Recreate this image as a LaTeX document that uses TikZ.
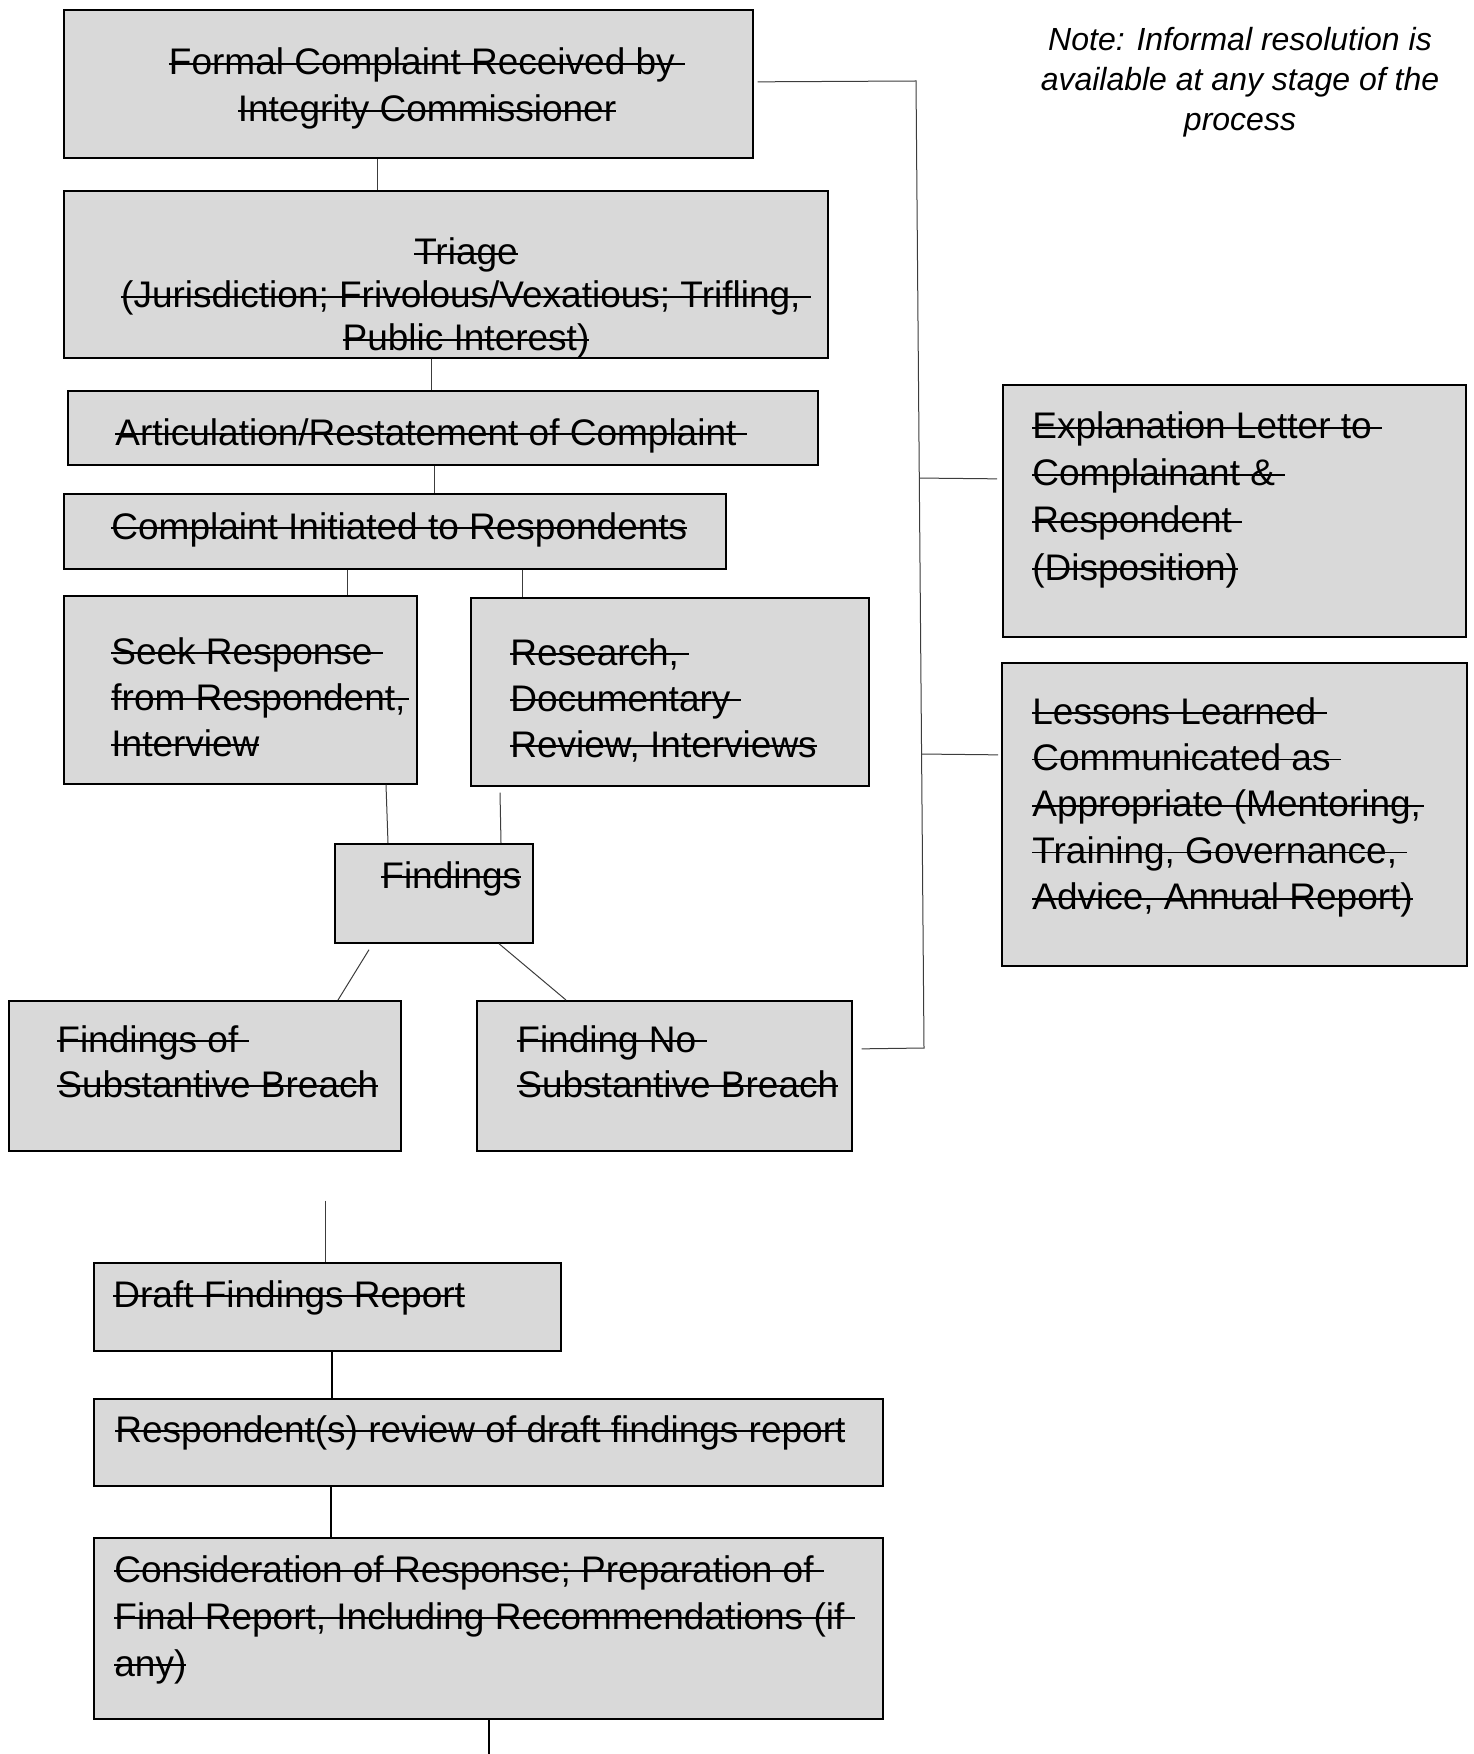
\documentclass[tikz,border=0pt]{standalone}
\usepackage{fontspec}
\setmainfont{Liberation Sans}
\usetikzlibrary{calc}
\definecolor{boxgray}{RGB}{217,217,217}
\definecolor{linegray}{RGB}{60,60,60}
\newcommand\stk[1]{\setbox0=\hbox{#1}\rlap{\rule[0.27em]{\wd0}{0.8pt}}\box0}
\newcommand\tl[1]{\begin{tabular}[t]{@{}l@{}}#1\end{tabular}}
\newcommand\tc[1]{\begin{tabular}[t]{@{}c@{}}#1\end{tabular}}
\begin{document}
\begin{tikzpicture}[x=0.5pt,y=-0.5pt,
  box/.style={draw=black, line width=0.85pt, fill=boxgray, anchor=north west, inner sep=0pt},
  txt/.style={anchor=base west, inner sep=0pt, font=\fontsize{18.5}{#1}\selectfont},
  txt/.default=23pt,
  conn/.style={draw=linegray, line width=0.5pt},
  connb/.style={draw=black, line width=1.2pt}]
\useasboundingbox (0,0) rectangle (1473,1754);

% boxes
\node[box, minimum width=344.5pt, minimum height=74pt]   (b1)  at (63,9) {};
\node[box, minimum width=382pt,   minimum height=83.5pt] (b2)  at (63,190) {};
\node[box, minimum width=375pt,   minimum height=37pt]   (b3)  at (67,390) {};
\node[box, minimum width=331pt,   minimum height=37.5pt] (b4)  at (63,493) {};
\node[box, minimum width=176.5pt, minimum height=94pt]   (b5)  at (63,595) {};
\node[box, minimum width=199pt,   minimum height=94pt]   (b6)  at (470,597) {};
\node[box, minimum width=99pt,    minimum height=49.5pt] (b7)  at (334,843) {};
\node[box, minimum width=196pt,   minimum height=75pt]   (b8)  at (8,1000) {};
\node[box, minimum width=187.5pt, minimum height=75pt]   (b9)  at (476,1000) {};
\node[box, minimum width=233.5pt, minimum height=44pt]   (b10) at (93,1262) {};
\node[box, minimum width=394.5pt, minimum height=43.5pt] (b11) at (93,1398) {};
\node[box, minimum width=394.5pt, minimum height=90.5pt] (b12) at (93,1537) {};
\node[box, minimum width=231.5pt, minimum height=126pt]  (b13) at (1002,384) {};
\node[box, minimum width=232.5pt, minimum height=151.5pt](b14) at (1001,662) {};

% texts
\node[txt=23.5pt, anchor=base] (t1) at (427,75) {\tc{\stk{Formal Complaint Received by }\\\stk{Integrity Commissioner}}};
\node[txt=21.5pt, anchor=base] (t2) at (466,265) {\tc{\stk{Triage}\\\stk{(Jurisdiction; Frivolous/Vexatious; Trifling, }\\\stk{Public Interest)}}};
\node[txt] (t3) at (115,445) {\stk{Articulation/Restatement of Complaint }};
\node[txt] (t4) at (111,539) {\stk{Complaint Initiated to Respondents}};
\node[txt] (t5) at (111,664) {\tl{\stk{Seek Response }\\\stk{from Respondent,\hspace{1.5pt}}\\\stk{Interview}}};
\node[txt] (t6) at (510,665) {\tl{\stk{Research, }\\\stk{Documentary }\\\stk{Review, Interviews}}};
\node[txt] (t7) at (381,888) {\stk{Findings}};
\node[txt=22.5pt] (t8) at (57,1052) {\tl{\stk{Findings of }\\\stk{Substantive Breach}}};
\node[txt=22.5pt] (t9) at (517,1052) {\tl{\stk{Finding No }\\\stk{Substantive Breach}}};
\node[txt] (t10) at (113,1307) {\stk{Draft Findings Report}};
\node[txt] (t11) at (115,1442) {\stk{Respondent(s) review of draft findings report}};
\node[txt=23.5pt] (t12) at (114,1582) {\tl{\stk{Consideration of Response; Preparation of }\\\stk{Final Report, Including Recommendations (if }\\\stk{any)}}};
\node[txt=23.5pt] (t13) at (1032,439) {\tl{\stk{Explanation Letter to }\\\stk{Complainant \& }\\\stk{Respondent }\\\stk{(Disposition)}}};
\node[txt=23.2pt] (t14) at (1032,724) {\tl{\stk{Lessons Learned }\\\stk{Communicated as }\\\stk{Appropriate (Mentoring,\hspace{1.5pt}}\\\stk{Training, Governance, }\\\stk{Advice, Annual Report)}}};
\node[anchor=base, inner sep=0pt, font=\fontsize{16}{20}\selectfont\itshape] (note) at (1240,51)
  {\tc{Note: Informal resolution is\\available at any stage of the\\process}};

% vertical chain connectors
\draw[conn] ([xshift=157pt]b1.south west) -- ([xshift=157pt]b2.north west);
\draw[conn] ([xshift=184pt]b2.south west) -- ([xshift=182pt]b3.north west);
\draw[conn] ([xshift=183.5pt]b3.south west) -- ([xshift=185.5pt]b4.north west);
\draw[conn] ([xshift=142pt]b4.south west) -- ([xshift=142pt]b5.north west);
\draw[conn] ([xshift=229.5pt]b4.south west) -- ([xshift=26pt]b6.north west);
\draw[conn] ([xshift=161.5pt]b5.south west) -- ([xshift=27pt]b7.north west);
\draw[conn] ([xshift=15pt,yshift=-3pt]b6.south west) -- ([xshift=83.5pt]b7.north west);
\draw[conn] ([xshift=17.5pt,yshift=-3pt]b7.south west) -- ([xshift=165pt]b8.north west);
\draw[conn] ([xshift=82.5pt]b7.south west) -- ([xshift=45pt]b9.north west);
\draw[conn] ([xshift=158.5pt,yshift=-24.5pt]b8.south west) -- ([xshift=116pt]b10.north west);
\draw[draw=black, line width=0.8pt] ([xshift=119.5pt]b10.south west) -- ([xshift=119.5pt]b11.north west);
\draw[connb] ([xshift=119pt]b11.south west) -- ([xshift=119pt]b12.north west);
\coordinate (cend) at (489,1754);
\draw[connb] ([xshift=198pt]b12.south west) -- (cend);

% right bracket
\coordinate (tr) at (916,81);
\coordinate (br) at (924,1048);
\draw[conn] ([xshift=2pt,yshift=1pt]b1.east) -- (tr) -- (br) -- ([xshift=4.5pt,yshift=13.5pt]b9.east);
\draw[conn] ($(tr)!0.4106!(br)$) -- ([xshift=-2.5pt,yshift=16pt]b13.west);
\draw[conn] ($(tr)!0.696!(br)$) -- ([xshift=-1.5pt,yshift=29.75pt]b14.west);
\end{tikzpicture}
\end{document}
